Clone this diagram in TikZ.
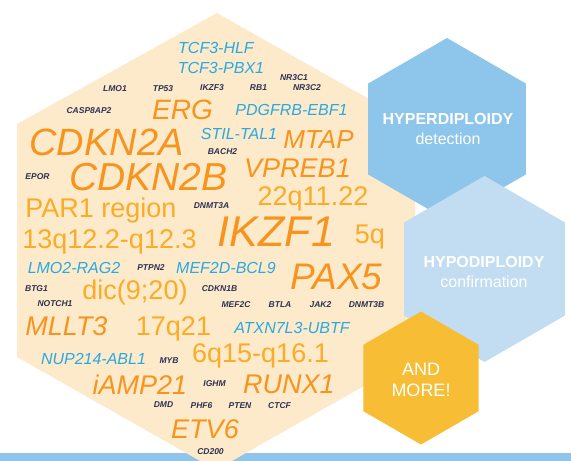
\documentclass[tikz,border=0pt]{standalone}
\usepackage{fontspec}
\setmainfont{Liberation Sans}
\definecolor{beige}{HTML}{FDEACB}
\definecolor{hexA}{HTML}{8DC5EB}
\definecolor{hexB}{HTML}{C2DDF2}
\definecolor{hexC}{HTML}{F6BD35}
\definecolor{orangeT}{HTML}{F7941D}
\definecolor{lorangeT}{HTML}{FAAC26}
\definecolor{blueT}{HTML}{29A9E1}
\definecolor{navyT}{HTML}{2E3152}
\tikzset{
  txt/.style={anchor=base, inner sep=0pt},
  gm/.style={txt, text=orangeT, font=\fontsize{27}{27}\selectfont\itshape},
  gl/.style={txt, text=orangeT, font=\fontsize{38}{38}\selectfont\itshape},
  reg/.style={txt, text=lorangeT, font=\fontsize{27}{27}\selectfont},
  fus/.style={txt, text=blueT, font=\fontsize{16}{16}\selectfont\itshape},
  sm/.style={txt, text=navyT, font=\fontsize{8.5}{8.5}\selectfont\bfseries\itshape},
  hexlbl/.style={txt, text=white, font=\fontsize{16}{16}\selectfont},
}
\begin{document}
\begin{tikzpicture}[x=1pt,y=-1pt]
\useasboundingbox (0,0) rectangle (571,461);
\clip (0,0) rectangle (571,461);
% bottom bar
\fill[hexA] (0,453) rectangle (571,465);
% big beige hexagon
\fill[beige] (217,13) -- (415,125) -- (415,357) -- (216,470) -- (17,357) -- (17,124) -- cycle;
% blue hexagons
\fill[hexA] (447,38) -- (525.8,83.5) -- (525.8,174.5) -- (447,220) -- (368.2,174.5) -- (368.2,83.5) -- cycle;
\fill[hexB] (484.5,176) -- (565,222.5) -- (565,315.5) -- (484.5,362) -- (404,315.5) -- (404,222.5) -- cycle;
\fill[hexC] (421,311.5) -- (478.6,344.75) -- (478.6,411.25) -- (421,444.5) -- (363.4,411.25) -- (363.4,344.75) -- cycle;
% hex labels
\node[hexlbl, font=\fontsize{16}{16}\selectfont\bfseries] (hyper) at (448,124) {HYPERDIPLOIDY};
\node[hexlbl] (hyperd) at (448,144) {detection};
\node[hexlbl, font=\fontsize{16}{16}\selectfont\bfseries] (hypo) at (484,267.3) {HYPODIPLOIDY};
\node[hexlbl] (hypoc) at (484,287.3) {confirmation};
\node[hexlbl, font=\fontsize{18}{18}\selectfont] (andm) at (421,375) {AND};
\node[hexlbl, font=\fontsize{18}{18}\selectfont] (more) at (421,396) {MORE!};
% fusions (blue)
\node[fus] (tcfhlf) at (216,53) {TCF3-HLF};
\node[fus] (tcfpbx) at (221,73) {TCF3-PBX1};
\node[fus] (pdgfrb) at (291.5,115) {PDGFRB-EBF1};
\node[fus] (stil) at (239,139) {STIL-TAL1};
\node[fus] (lmotwo) at (74,273) {LMO2-RAG2};
\node[fus] (mefd) at (226,273) {MEF2D-BCL9};
\node[fus] (atxn) at (292,333) {ATXN7L3-UBTF};
\node[fus] (nup) at (93.5,364) {NUP214-ABL1};
% small genes
\node[sm] (lmoone) at (115,91) {LMO1};
\node[sm] (tpff) at (163,91) {TP53};
\node[sm] (ikzfthree) at (212,90.5) {IKZF3};
\node[sm] (rbone) at (258.5,90.5) {RB1};
\node[sm] (nrone) at (294,80) {NR3C1};
\node[sm] (nrtwo) at (307,90.5) {NR3C2};
\node[sm] (casp) at (89,113) {CASP8AP2};
\node[sm] (bach) at (222.5,154) {BACH2};
\node[sm] (epor) at (37.5,179) {EPOR};
\node[sm] (dnmta) at (211.5,208) {DNMT3A};
\node[sm] (ptpn) at (151,270.7) {PTPN2};
\node[sm] (btg) at (36.5,291.7) {BTG1};
\node[sm] (cdknb) at (219.5,291.7) {CDKN1B};
\node[sm] (notch) at (55,306.7) {NOTCH1};
\node[sm] (mefc) at (236,307) {MEF2C};
\node[sm] (btla) at (280,307) {BTLA};
\node[sm] (jak) at (320.5,307) {JAK2};
\node[sm] (dnmtb) at (366.5,307.5) {DNMT3B};
\node[sm] (myb) at (169,363.3) {MYB};
\node[sm] (ighm) at (214.5,386.7) {IGHM};
\node[sm] (dmd) at (163.5,407.5) {DMD};
\node[sm] (phf) at (201.5,408) {PHF6};
\node[sm] (pten) at (240,408) {PTEN};
\node[sm] (ctcf) at (279.5,408) {CTCF};
\node[sm] (cdtwo) at (210.5,454) {CD200};
% orange genes
\node[gm, font=\fontsize{28}{28}\selectfont\itshape] (erg) at (182.5,119) {ERG};
\node[gl] (cdkna) at (106.5,155) {CDKN2A};
\node[gm, font=\fontsize{26}{26}\selectfont\itshape] (mtap) at (318.5,148) {MTAP};
\node[gl, font=\fontsize{39}{39}\selectfont\itshape] (cdknbb) at (148.5,190) {CDKN2B};
\node[gm] (vpreb) at (297.5,177) {VPREB1};
\node[gl, font=\fontsize{43}{43}\selectfont\itshape] (ikzf) at (276.5,246) {IKZF1};
\node[gl, font=\fontsize{37}{37}\selectfont\itshape] (pax) at (336.5,289) {PAX5};
\node[gm] (mllt) at (66.5,335.7) {MLLT3};
\node[gm] (iamp) at (140,394) {iAMP21};
\node[gm] (runx) at (289,393) {RUNX1};
\node[gm] (etv) at (205,438) {ETV6};
% chromosome regions
\node[reg] (qtt) at (313,205) {22q11.22};
\node[reg] (par) at (101,217) {PAR1 region};
\node[reg] (thirteen) at (109.5,248) {13q12.2-q12.3};
\node[reg] (fiveq) at (370,243) {5q};
\node[reg] (dic) at (135,299) {dic(9;20)};
\node[reg] (seventeen) at (173.5,335) {17q21};
\node[reg] (sixq) at (260.5,362.7) {6q15-q16.1};
\end{tikzpicture}
\end{document}
